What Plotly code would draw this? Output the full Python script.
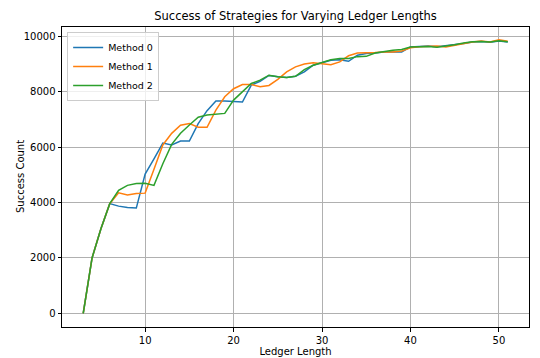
import plotly.graph_objects as go

ledger_lengths = list(range(3, 52))

method0 = [0, 2000, 3050, 3960, 3870, 3820, 3800, 5030, 5580, 6150,
           6080, 6220, 6220, 6850, 7320, 7670, 7670, 7660, 7630, 8240,
           8380, 8590, 8540, 8520, 8560, 8720, 8960, 9050, 9140, 9160,
           9100, 9320, 9380, 9400, 9440, 9440, 9440, 9620, 9640, 9650,
           9630, 9660, 9700, 9740, 9800, 9820, 9790, 9830, 9800]

method1 = [0, 2000, 3050, 3960, 4350, 4270, 4330, 4340, 5200, 6080,
           6500, 6790, 6850, 6720, 6720, 7340, 7820, 8110, 8260, 8260,
           8180, 8230, 8450, 8720, 8900, 9000, 9050, 9020, 8980, 9080,
           9300, 9400, 9400, 9420, 9440, 9440, 9470, 9590, 9630, 9650,
           9650, 9620, 9680, 9740, 9800, 9830, 9800, 9880, 9830]

method2 = [0, 2000, 3050, 3960, 4440, 4620, 4690, 4700, 4620, 5400,
           6100, 6500, 6800, 7080, 7160, 7180, 7220, 7700, 8000, 8300,
           8420, 8600, 8540, 8520, 8560, 8800, 8960, 9050, 9160, 9200,
           9200, 9270, 9280, 9400, 9460, 9500, 9530, 9620, 9630, 9640,
           9610, 9650, 9700, 9760, 9810, 9820, 9800, 9840, 9810]

series = [("Method 0", method0, "#1f77b4"),
          ("Method 1", method1, "#ff7f0e"),
          ("Method 2", method2, "#2ca02c")]

x_ticks = [10, 20, 30, 40, 50]
y_ticks = [0, 2000, 4000, 6000, 8000, 10000]
y_tick_labels = ["0", "2000", "4000", "6000", "8000", "10000"]

fig = go.Figure()
for name, vals, color in series:
    fig.add_trace(go.Scatter(x=ledger_lengths, y=vals, mode="lines", name=name,
                             line=dict(color=color, width=1.5)))

font = "DejaVu Sans"
fig.update_layout(
    width=540, height=358,
    margin=dict(l=62, r=11, t=27, b=31, autoexpand=False),
    paper_bgcolor="white", plot_bgcolor="white",
    font=dict(family=font, size=10, color="black"),
    title=dict(text="Success of Strategies for Varying Ledger Lengths",
               x=(62 + 529) / 2 / 540, xanchor="center", y=1 - 16 / 358, yanchor="middle",
               font=dict(size=11.5, family=font)),
    showlegend=True,
    legend=dict(x=0.011, y=0.983, xanchor="left", yanchor="top",
                bgcolor="rgba(255,255,255,0.8)", bordercolor="#cccccc", borderwidth=1,
                font=dict(size=9.5, family=font), tracegroupgap=0, itemwidth=30),
    annotations=[dict(text="Success Count", textangle=-90, xref="paper", yref="paper",
                      x=(20 - 62) / 467, y=0.5, xanchor="center", yanchor="middle",
                      showarrow=False, font=dict(size=10, family=font))],
)
fig.update_xaxes(range=[0.6, 53.4], tickvals=x_ticks, showgrid=True, gridcolor="#b0b0b0",
                 gridwidth=0.8, showline=True, linecolor="black", linewidth=1, mirror=True,
                 ticks="outside", ticklen=3.5, tickcolor="black", zeroline=False,
                 automargin=False,
                 title=dict(text="Ledger Length", standoff=1, font=dict(size=10)))
fig.update_yaxes(range=[-495, 10340], tickvals=y_ticks, ticktext=y_tick_labels,
                 showgrid=True, gridcolor="#b0b0b0",
                 gridwidth=0.8, showline=True, linecolor="black", linewidth=1, mirror=True,
                 ticks="outside", ticklen=3.5, tickcolor="black", zeroline=False,
                 automargin=False)

fig.write_html("out.html", config={"displayModeBar": False},
               post_script="document.body.style.margin='0';document.body.style.overflow='hidden';")
